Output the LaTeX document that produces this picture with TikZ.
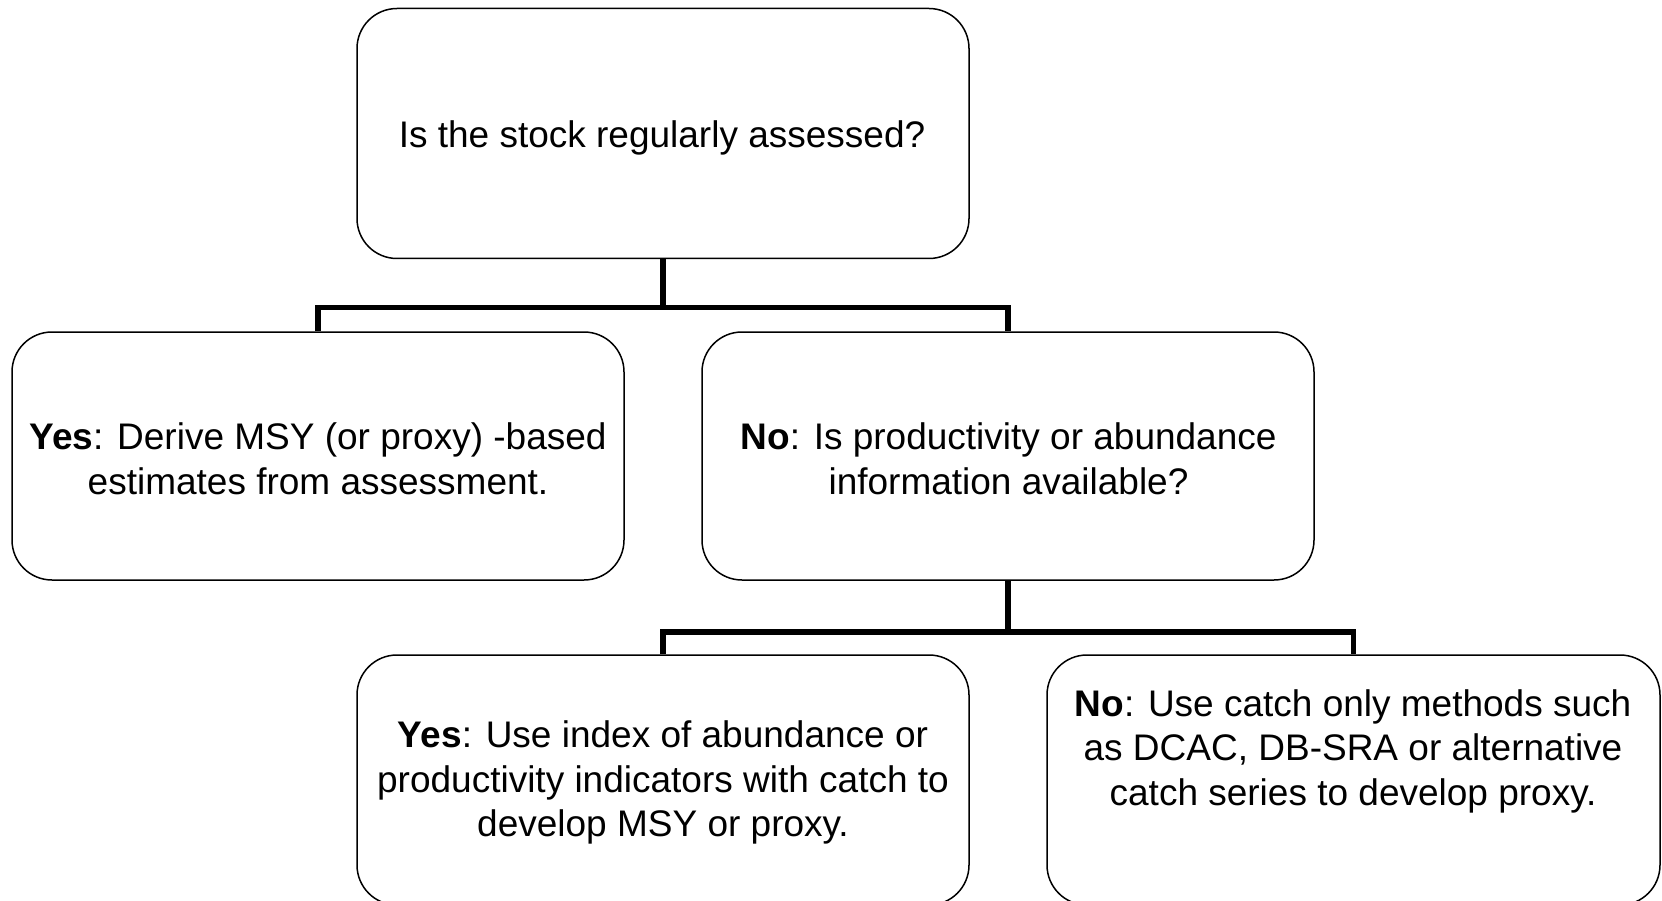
\documentclass[tikz,border=0pt]{standalone}
\usepackage{fontspec}
\setmainfont{Liberation Sans}
\begin{document}
\begin{tikzpicture}[x=1pt,y=-1pt,
  boxshape/.style={draw=black, line width=1.5pt, rounded corners=40pt, minimum width=612pt, minimum height=250pt, inner sep=0pt},
  boxtext/.style={align=center, inner sep=0pt, font=\fontsize{37}{44.5}\selectfont},
  conn/.style={draw=black, line width=5.5pt, line join=miter}]
\useasboundingbox[fill=white] (0,0) rectangle (1662,901);
% boxes
\node[boxshape] (top) at (663,133.5) {};
\node[boxshape, minimum height=248pt] (left) at (318,456) {};
\node[boxshape, minimum height=248pt] (mid) at (1008,456) {};
\node[boxshape] (bl) at (663,780) {};
\node[boxshape, minimum width=613pt] (br) at (1353.5,780) {};
% texts
\node[boxtext] (ttop) at (662,137.5) {Is the stock regularly assessed?};
\node[boxtext] (tleft) at (318,459) {\textbf{Yes}: Derive MSY (or proxy) -based\\estimates from assessment.};
\node[boxtext] (tmid) at (1008.5,459) {\textbf{No}: Is productivity or abundance\\information available?};
\node[boxtext] (tbl) at (663,782.5) {\textbf{Yes}: Use index of abundance or\\productivity indicators with catch to\\develop MSY or proxy.};
\node[boxtext] (tbr) at (1353,751) {\textbf{No}: Use catch only methods such\\as DCAC, DB-SRA or alternative\\catch series to develop proxy.};
% connectors
\coordinate (j1) at (663,307.5);
\coordinate (j2) at (1008,632);
\draw[conn] (top.south) -- (j1);
\draw[conn] (left.north) |- (j1) -| (mid.north);
\draw[conn] (mid.south) -- (j2);
\draw[conn] (bl.north) |- (j2) -| (br.north);
\end{tikzpicture}
\end{document}
